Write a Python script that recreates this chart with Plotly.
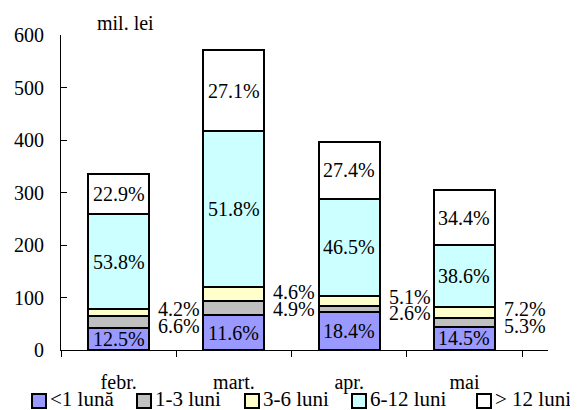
import plotly.graph_objects as go

months = ["febr.", "mart.", "apr.", "mai"]
series_names = ["<1 lună", "1-3 luni", "3-6 luni", "6-12 luni", "> 12 luni"]

# segment values, mil. lei
lt1 = [41.9, 66.2, 73.0, 44.1]
m1_3 = [22.1, 28.0, 10.3, 16.1]
m3_6 = [14.1, 26.3, 20.2, 21.9]
m6_12 = [180.2, 295.8, 184.6, 117.3]
gt12 = [76.7, 154.7, 108.8, 104.6]

# share labels
pct_lt1 = ["12.5%", "11.6%", "18.4%", "14.5%"]
pct_m1_3 = ["6.6%", "4.9%", "2.6%", "5.3%"]
pct_m3_6 = ["4.2%", "4.6%", "5.1%", "7.2%"]
pct_m6_12 = ["53.8%", "51.8%", "46.5%", "38.6%"]
pct_gt12 = ["22.9%", "27.1%", "27.4%", "34.4%"]

colors = ["#9999FF", "#C0C0C0", "#FFFFCC", "#CCFFFF", "#FFFFFF"]

series = [lt1, m1_3, m3_6, m6_12, gt12]
labels = [pct_lt1, pct_m1_3, pct_m3_6, pct_m6_12, pct_gt12]

FONT = "Liberation Serif, Times New Roman, serif"
FS = 20
BAR_W = 0.53

W, H = 570, 402
ML, MR, MT, MB = 53, 30, 27, 60
PW = W - ML - MR
PH = H - MT - MB

fig = go.Figure()
for name, vals, col in zip(series_names, series, colors):
    fig.add_trace(go.Bar(
        x=months, y=vals, name=name, width=BAR_W,
        marker=dict(color=col, line=dict(color="black", width=2)),
        hoverinfo="skip", showlegend=False,
    ))

annotations = []
for i in range(len(months)):
    bases = []
    acc = 0
    for s in series:
        bases.append(acc)
        acc += s[i]
    # inside labels
    for k in (0, 3, 4):
        annotations.append(dict(
            x=i, y=bases[k] + series[k][i] / 2, xref="x", yref="y",
            text=labels[k][i], showarrow=False, xanchor="center",
            font=dict(family=FONT, size=FS, color="black"),
        ))
    # side labels for thin segments
    yc_g = bases[1] + series[1][i] / 2
    yc_y = bases[2] + series[2][i] / 2
    mid = (yc_g + yc_y) / 2
    sep = 32
    if yc_y - yc_g < sep:
        yc_y = mid + sep / 2
        yc_g = mid - sep / 2
    for k, yy in ((1, yc_g), (2, yc_y)):
        annotations.append(dict(
            x=i + BAR_W / 2, y=yy, xref="x", yref="y",
            text=labels[k][i], showarrow=False, xanchor="left", xshift=7,
            font=dict(family=FONT, size=FS, color="black"),
        ))

annotations.append(dict(
    x=0.133, y=1, xref="paper", yref="paper", xanchor="center",
    yanchor="middle", yshift=12,
    text="mil. lei", showarrow=False,
    font=dict(family=FONT, size=FS, color="black"),
))

# hand-made legend (pixel positions within the figure)
legend_box_left = [24, 129, 237, 344, 469]
BOX = 14
box_top, box_bottom = 386, 400
shapes = []
for name, col, bx in zip(series_names, colors, legend_box_left):
    shapes.append(dict(
        type="rect", xref="paper", yref="paper",
        x0=(bx - ML) / PW, x1=(bx + BOX - ML) / PW,
        y0=(MT + PH - box_bottom) / PH, y1=(MT + PH - box_top) / PH,
        fillcolor=col, line=dict(color="black", width=2),
    ))
    annotations.append(dict(
        x=(bx + BOX + 2 - ML) / PW, y=(MT + PH - (box_top + box_bottom) / 2) / PH,
        xref="paper", yref="paper", xanchor="left", yanchor="middle",
        text=name, showarrow=False, yshift=2,
        font=dict(family=FONT, size=21, color="black"),
    ))

fig.update_layout(
    width=W, height=H,
    margin=dict(l=ML, r=MR, t=MT, b=MB, autoexpand=False),
    paper_bgcolor="white", plot_bgcolor="white",
    barmode="stack",
    font=dict(family=FONT, size=FS, color="black"),
    showlegend=False,
    annotations=annotations,
    shapes=shapes,
)
fig.update_xaxes(
    showline=True, linecolor="black", linewidth=1,
    ticks="outside", ticklen=6, tickcolor="black", tickson="boundaries",
    ticklabelstandoff=14, showgrid=False, zeroline=False,
)
fig.update_yaxes(
    range=[0, 600], tickvals=[0, 100, 200, 300, 400, 500, 600],
    showline=True, linecolor="black", linewidth=1,
    ticks="inside", ticklen=6, tickcolor="black",
    ticklabelstandoff=12, showgrid=False, zeroline=False,
)

fig.write_html("out.html")
